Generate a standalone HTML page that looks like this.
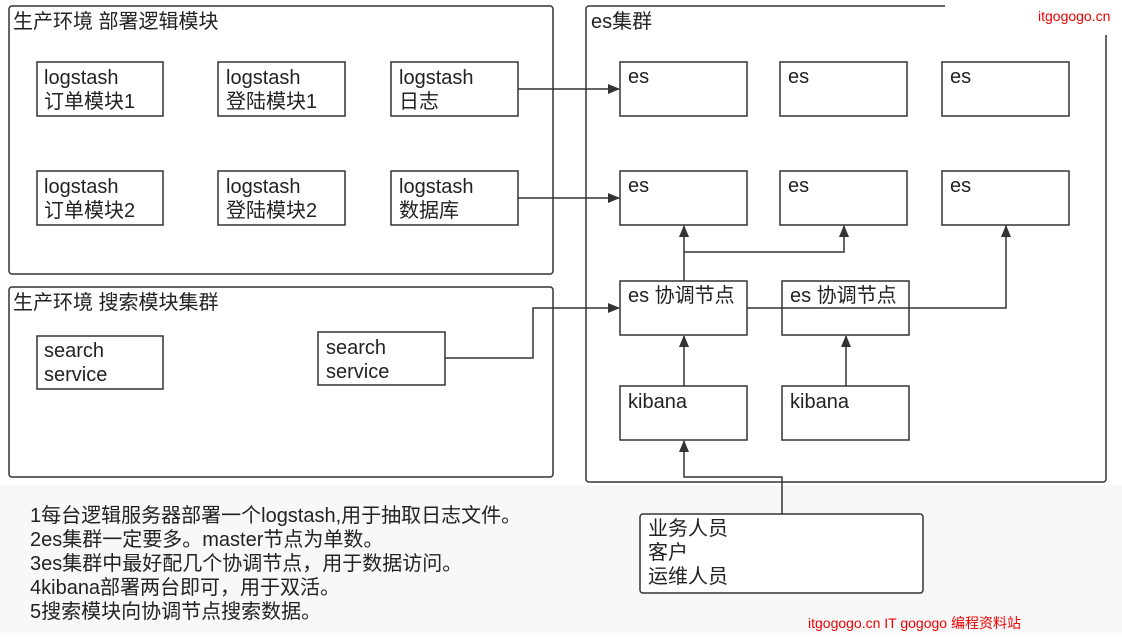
<!DOCTYPE html>
<html><head><meta charset="utf-8"><style>
body{margin:0;background:#fff;}
svg text{font-family:"Liberation Sans","Noto Sans CJK SC",sans-serif;fill:#222;}
</style></head><body>
<svg width="1122" height="633" viewBox="0 0 1122 633" xmlns="http://www.w3.org/2000/svg">
<defs><marker id="a" markerWidth="12" markerHeight="12" refX="11" refY="5" orient="auto" markerUnits="userSpaceOnUse"><path d="M0,0 L12,5 L0,10 z" fill="#333"/></marker></defs>
<rect x="0" y="485" width="1122" height="148" fill="#f8f8f8"/>
<g fill="none" stroke="#333" stroke-width="1.5">
<rect x="9" y="6" width="544" height="268" rx="3"/>
<rect x="9" y="287" width="544" height="190" rx="3"/>
<rect x="586" y="6" width="520" height="476" rx="3"/>
<rect x="37" y="62" width="126" height="54"/><rect x="218" y="62" width="127" height="54"/><rect x="391" y="62" width="127" height="54"/>
<rect x="37" y="171" width="126" height="54"/><rect x="218" y="171" width="127" height="54"/><rect x="391" y="171" width="127" height="54"/>
<rect x="37" y="336" width="126" height="53"/><rect x="318" y="332" width="127" height="53"/>
<rect x="620" y="62" width="127" height="54"/><rect x="780" y="62" width="127" height="54"/><rect x="942" y="62" width="127" height="54"/>
<rect x="620" y="171" width="127" height="54"/><rect x="780" y="171" width="127" height="54"/><rect x="942" y="171" width="127" height="54"/>
<rect x="620" y="281" width="127" height="54"/><rect x="782" y="281" width="127" height="54"/>
<rect x="620" y="386" width="127" height="54"/><rect x="782" y="386" width="127" height="54"/>
<rect x="640" y="514" width="283" height="79" rx="3" fill="#fff"/>
</g>
<g fill="none" stroke="#333" stroke-width="1.5" marker-end="url(#a)">
<path d="M518,89 H619"/><path d="M518,198 H619"/>
<path d="M445,358 H533 V308 H619"/>
<path d="M684,281 V226"/><path d="M684,252 H844 V226"/>
<path d="M747,308 H1006 V226"/>
<path d="M684,386 V336"/><path d="M846,386 V336"/>
<path d="M782,514 V477 H684 V441"/>
</g>
<g font-size="20">
<text x="13" y="28">生产环境 部署逻辑模块</text>
<text x="13" y="309">生产环境 搜索模块集群</text>
<text x="591" y="28">es集群</text>
<text x="44" y="84">logstash</text><text x="44" y="108">订单模块1</text>
<text x="226" y="84">logstash</text><text x="226" y="108">登陆模块1</text>
<text x="399" y="84">logstash</text><text x="399" y="108">日志</text>
<text x="44" y="193">logstash</text><text x="44" y="217">订单模块2</text>
<text x="226" y="193">logstash</text><text x="226" y="217">登陆模块2</text>
<text x="399" y="193">logstash</text><text x="399" y="217">数据库</text>
<text x="44" y="357">search</text><text x="44" y="381">service</text>
<text x="326" y="354">search</text><text x="326" y="378">service</text>
<text x="628" y="83">es</text><text x="788" y="83">es</text><text x="950" y="83">es</text>
<text x="628" y="192">es</text><text x="788" y="192">es</text><text x="950" y="192">es</text>
<text x="628" y="302">es 协调节点</text><text x="790" y="302">es 协调节点</text>
<text x="628" y="408">kibana</text><text x="790" y="408">kibana</text>
<text x="648" y="535">业务人员</text><text x="648" y="559">客户</text><text x="648" y="583">运维人员</text>
<text x="30" y="522">1每台逻辑服务器部署一个logstash,用于抽取日志文件。</text>
<text x="30" y="546">2es集群一定要多。master节点为单数。</text>
<text x="30" y="570">3es集群中最好配几个协调节点，用于数据访问。</text>
<text x="30" y="594">4kibana部署两台即可，用于双活。</text>
<text x="30" y="618">5搜索模块向协调节点搜索数据。</text>
</g>
<rect x="945" y="0" width="177" height="35" fill="#fff"/>
<text x="1038" y="21" font-size="14" style="fill:#e00">itgogogo.cn</text>
<text x="808" y="628" font-size="14" style="fill:#e00">itgogogo.cn IT gogogo 编程资料站</text>
</svg>
</body></html>
